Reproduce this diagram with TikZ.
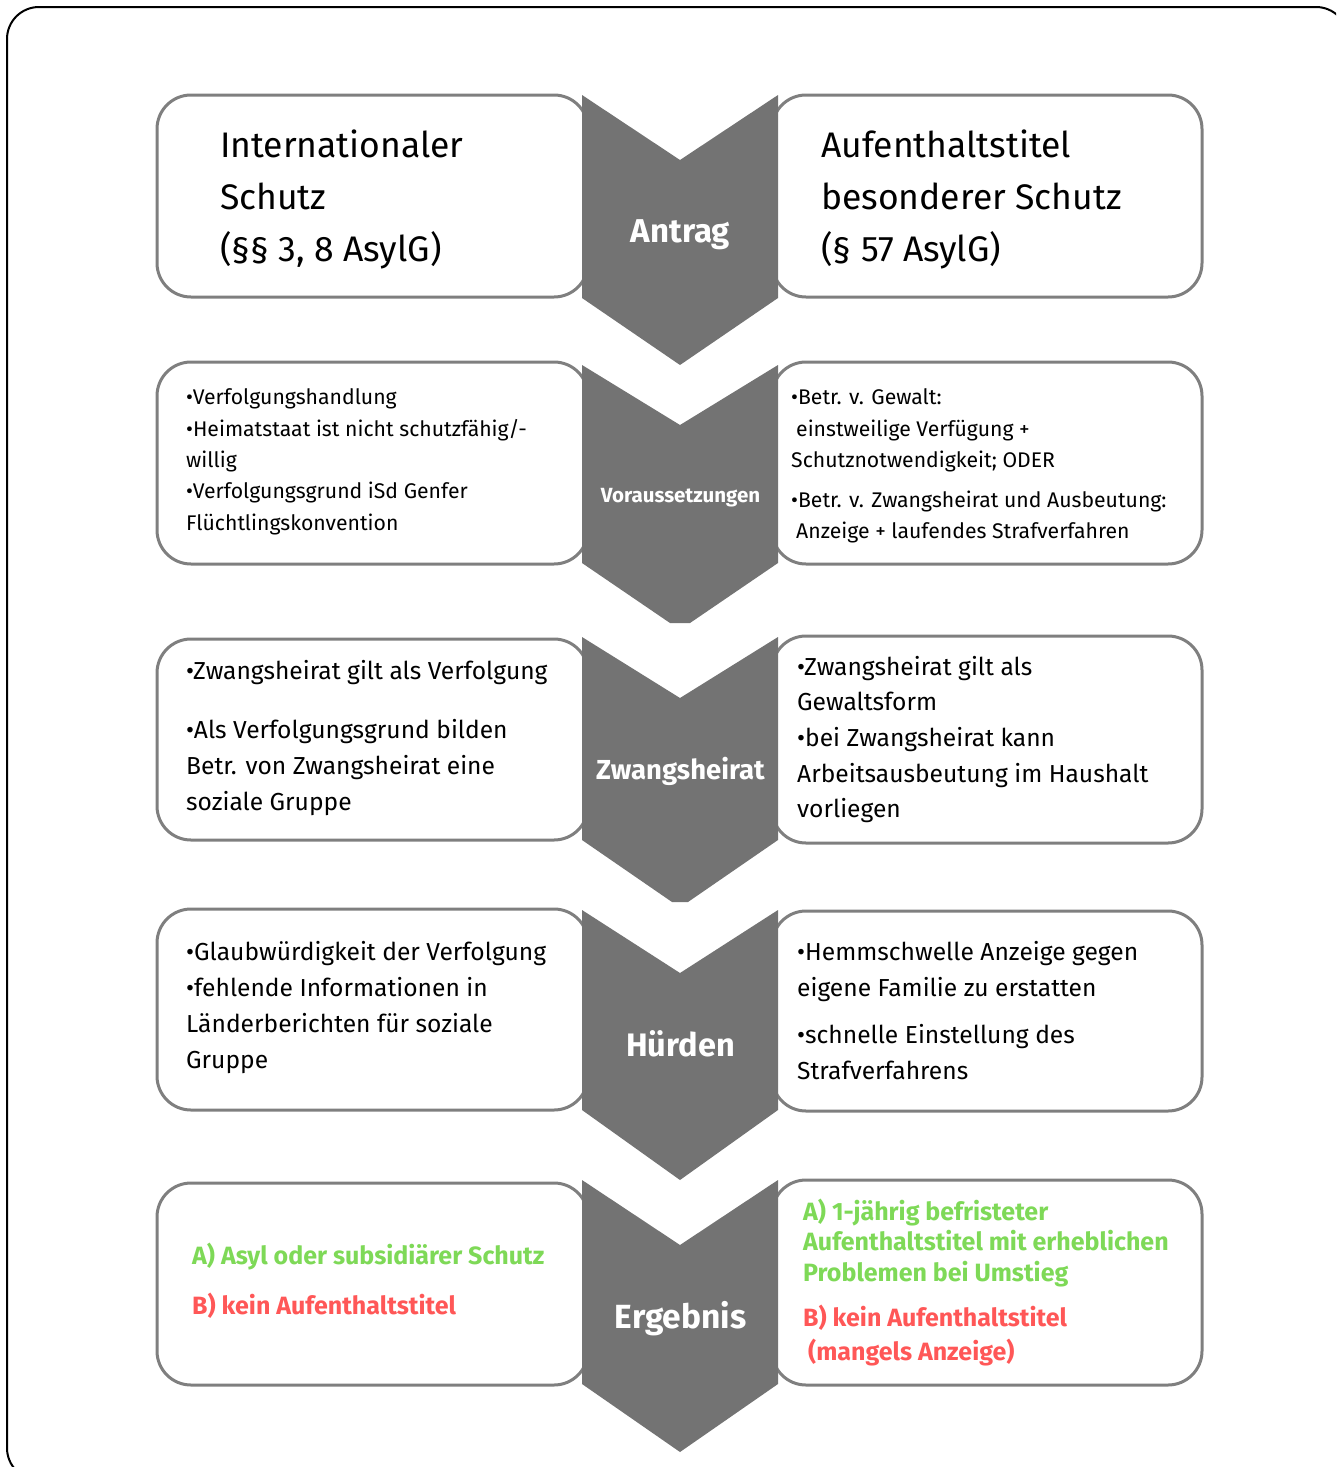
\documentclass[tikz,border=0pt]{standalone}
\usepackage{fontspec}
\setmainfont{Fira Sans}
\definecolor{chev}{HTML}{737373}
\definecolor{boxline}{HTML}{7F7F7F}
\definecolor{okgreen}{HTML}{7ED957}
\definecolor{nored}{HTML}{FF5757}
\tikzset{
  box/.style={draw=boxline, line width=3pt, fill=white, rounded corners=34pt},
  chevron/.style={fill=chev},
  lbl/.style={anchor=base, inner sep=0pt, text=white, font=\bfseries\fontsize{#1}{#1}\selectfont},
  txt/.style={anchor=base west, inner sep=0pt, font=\fontsize{#1}{#1}\selectfont},
  res/.style={anchor=base west, inner sep=0pt, font=\bfseries\fontsize{#1}{#1}\selectfont},
}
\begin{document}
\begin{tikzpicture}[x=1pt,y=-1pt]
\useasboundingbox (0,0) rectangle (1336,1467);
% outer frame
\begin{scope}
  \clip (0,0) rectangle (1336,1467);
  \draw[line width=2pt, rounded corners=32pt] (7,7) rectangle (1348,1480);
\end{scope}
% boxes
\draw[box] (157,95) rectangle (588,297);
\draw[box] (772,95) rectangle (1202,297);
\draw[box] (157,362) rectangle (588,564);
\draw[box] (772,362) rectangle (1202,564);
\draw[box] (157,639) rectangle (588,840);
\draw[box] (772,636) rectangle (1202,843);
\draw[box] (157,909) rectangle (588,1110);
\draw[box] (772,911) rectangle (1202,1111);
\draw[box] (157,1183) rectangle (588,1385);
\draw[box] (772,1180) rectangle (1202,1385);
% chevrons
\fill[chevron] (582,95) -- (680,160) -- (778,95) -- (778,298) -- (680,365) -- (582,298) -- cycle;
\fill[chevron] (582,365) -- (680,425) -- (778,365) -- (778,563) -- (690,623) -- (670,623) -- (582,563) -- cycle;
\fill[chevron] (582,637) -- (680,698) -- (778,637) -- (778,840) -- (688,902) -- (672,902) -- (582,840) -- cycle;
\fill[chevron] (582,910) -- (680,973) -- (778,910) -- (778,1110) -- (680,1180) -- (582,1110) -- cycle;
\fill[chevron] (582,1180) -- (680,1245) -- (778,1180) -- (778,1384) -- (680,1452) -- (582,1384) -- cycle;
% chevron labels
\node[lbl=33] (c1) at (680.5,242) {Antrag};
\node[lbl=20.5] (c2) at (680.5,502) {Voraussetzungen};
\node[lbl=27.5] (c3) at (680.5,779) {Zwangsheirat};
\node[lbl=32.5] (c4) at (680.5,1056) {Hürden};
\node[lbl=33.5] (c5) at (680.5,1328) {Ergebnis};
% row 1
\node[txt=35.5] (l1a) at (220,157) {Internationaler};
\node[txt=35.5] (l1b) at (220,209) {Schutz};
\node[txt=35.5] (l1c) at (220,261) {(§§ 3, 8 AsylG)};
\node[txt=35.5] (r1a) at (821,157) {Aufenthaltstitel};
\node[txt=35.5] (r1b) at (821,209) {besonderer Schutz};
\node[txt=35.5] (r1c) at (821,261) {(§ 57 AsylG)};
% row 2
\node[txt=21.2] (l2a) at (186,404) {•Verfolgungshandlung};
\node[txt=21.2] (l2b) at (186,436) {•Heimatstaat ist nicht schutzfähig/-};
\node[txt=21.2] (l2c) at (186,467) {willig};
\node[txt=21.2] (l2d) at (186,498) {•Verfolgungsgrund iSd Genfer};
\node[txt=21.2] (l2e) at (186,530) {Flüchtlingskonvention};
\node[txt=21.2] (r2a) at (791,404) {•Betr. v. Gewalt:};
\node[txt=21.2] (r2b) at (796,436) {einstweilige Verfügung +};
\node[txt=21.2] (r2c) at (791,467) {Schutznotwendigkeit; ODER};
\node[txt=21.2] (r2d) at (791,507) {•Betr. v. Zwangsheirat und Ausbeutung:};
\node[txt=21.2] (r2e) at (796,538) {Anzeige + laufendes Strafverfahren};
% row 3
\node[txt=24.6] (l3a) at (186,679) {•Zwangsheirat gilt als Verfolgung};
\node[txt=24.6] (l3b) at (186,738) {•Als Verfolgungsgrund bilden};
\node[txt=24.6] (l3c) at (186,774) {Betr. von Zwangsheirat eine};
\node[txt=24.6] (l3d) at (186,810) {soziale Gruppe};
\node[txt=24.6] (r3a) at (797,675) {•Zwangsheirat gilt als};
\node[txt=24.6] (r3b) at (797,710) {Gewaltsform};
\node[txt=24.6] (r3c) at (797,746) {•bei Zwangsheirat kann};
\node[txt=24.6] (r3d) at (797,782) {Arbeitsausbeutung im Haushalt};
\node[txt=24.6] (r3e) at (797,817) {vorliegen};
% row 4
\node[txt=24.6] (l4a) at (186,960) {•Glaubwürdigkeit der Verfolgung};
\node[txt=24.6] (l4b) at (186,996) {•fehlende Informationen in};
\node[txt=24.6] (l4c) at (186,1032) {Länderberichten für soziale};
\node[txt=24.6] (l4d) at (186,1068) {Gruppe};
\node[txt=24.6] (r4a) at (797,960) {•Hemmschwelle Anzeige gegen};
\node[txt=24.6] (r4b) at (797,996) {eigene Familie zu erstatten};
\node[txt=24.6] (r4c) at (797,1043) {•schnelle Einstellung des};
\node[txt=24.6] (r4d) at (797,1079) {Strafverfahrens};
% row 5
\node[res=25, text=okgreen] (l5a) at (192,1264) {A) Asyl oder subsidiärer Schutz};
\node[res=25, text=nored] (l5b) at (192,1314) {B) kein Aufenthaltstitel};
\node[res=25, text=okgreen] (r5a) at (803,1220) {A) 1-jährig befristeter};
\node[res=25, text=okgreen] (r5b) at (803,1250) {Aufenthaltstitel mit erheblichen};
\node[res=25, text=okgreen] (r5c) at (803,1281) {Problemen bei Umstieg};
\node[res=25, text=nored] (r5d) at (803,1326) {B) kein Aufenthaltstitel};
\node[res=25, text=nored] (r5e) at (808,1360) {(mangels Anzeige)};
\end{tikzpicture}
\end{document}
